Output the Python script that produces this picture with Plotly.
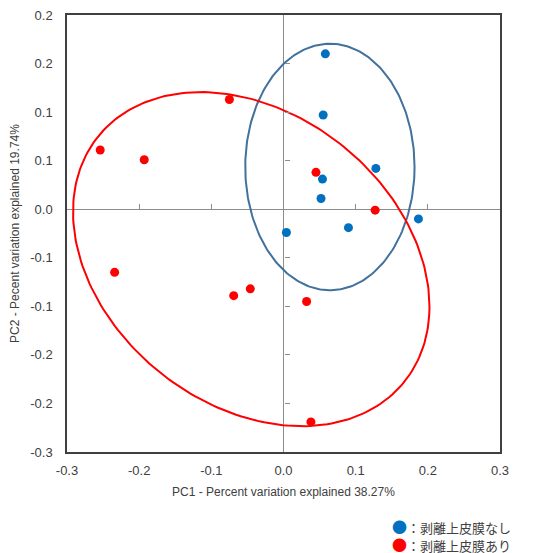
import numpy as np
import plotly.graph_objects as go

# --- data ---
blue_name = "：剥離上皮膜なし"
blue_x = [0.058, 0.055, 0.128, 0.054, 0.052, 0.187, 0.090, 0.004]
blue_y = [0.160, 0.097, 0.042, 0.031, 0.011, -0.010, -0.019, -0.024]

red_name = "：剥離上皮膜あり"
red_x = [-0.254, -0.193, -0.075, 0.045, 0.127, -0.234, -0.069, -0.046, 0.032, 0.038]
red_y = [0.061, 0.051, 0.113, 0.038, -0.001, -0.065, -0.089, -0.082, -0.095, -0.219]

# ellipse parameters: center x, center y, covariance-like shape matrix (data units)
blue_ell_center = (0.0643, 0.0435)
blue_ell_shape = [[0.1173**2, 0.0], [0.0, 0.1269**2]]
red_ell_center = (-0.0447, -0.0514)
red_ell_shape = [[0.06099, -0.01203], [-0.01203, 0.02959]]

x_ticks = [-0.3, -0.2, -0.1, 0.0, 0.1, 0.2, 0.3]
x_ticktext = ["-0.3", "-0.2", "-0.1", "0.0", "0.1", "0.2", "0.3"]
y_ticks = [-0.25, -0.2, -0.15, -0.1, -0.05, 0.0, 0.05, 0.1, 0.15, 0.2]
y_ticktext = ["-0.3", "-0.2", "-0.2", "-0.1", "-0.1", "0.0", "0.1", "0.1", "0.2", "0.2"]
x_range = [-0.3, 0.3]
y_range = [-0.25, 0.2]

x_title = "PC1 - Percent variation explained 38.27%"
y_title = "PC2 - Pecent variation explained 19.74%"

BLUE = "#0070C0"
RED = "#FF0000"
BLUE_ELL = "#41719C"


def ellipse(center, shape, n=240):
    t = np.linspace(0, 2 * np.pi, n)
    L = np.linalg.cholesky(np.array(shape))
    pts = L @ np.vstack([np.cos(t), np.sin(t)])
    return center[0] + pts[0], center[1] + pts[1]


fig = go.Figure()

ex, ey = ellipse(blue_ell_center, blue_ell_shape)
fig.add_trace(go.Scatter(x=ex, y=ey, mode="lines", line=dict(color=BLUE_ELL, width=2),
                         showlegend=False, hoverinfo="skip"))
ex, ey = ellipse(red_ell_center, red_ell_shape)
fig.add_trace(go.Scatter(x=ex, y=ey, mode="lines", line=dict(color=RED, width=2),
                         showlegend=False, hoverinfo="skip"))

fig.add_trace(go.Scatter(x=blue_x, y=blue_y, mode="markers", name=blue_name,
                         marker=dict(color=BLUE, size=9), showlegend=False))
fig.add_trace(go.Scatter(x=red_x, y=red_y, mode="markers", name=red_name,
                         marker=dict(color=RED, size=9), showlegend=False))

# invisible trace to activate the zero-crossing tick axes
fig.add_trace(go.Scatter(x=[None], y=[None], xaxis="x2", yaxis="y2", showlegend=False,
                         hoverinfo="skip"))

tick_font = dict(family="Liberation Sans, Arial, sans-serif", size=13, color="#404040")
leg_font = dict(family="Noto Sans CJK JP", size=13, color="#404040")

# text legend (coloured bullet + label), as in the reference
for i, (name, col) in enumerate([(blue_name, BLUE), (red_name, RED)]):
    fig.add_annotation(
        xref="paper", yref="paper", x=0.745, y=-0.1716 - 0.0405 * i,
        xanchor="left", yanchor="middle", showarrow=False,
        text=f'<span style="color:{col};font-size:15px">●</span>{name}',
        font=leg_font, align="left",
    )

# the page body has an 8px default margin, so the figure is 8px smaller
fig.update_layout(
    width=527, height=545,
    margin=dict(l=59, r=35, t=7, b=101),
    paper_bgcolor="white", plot_bgcolor="white",
    font=dict(family="Liberation Sans, Arial, sans-serif", size=12, color="#404040"),
    showlegend=False,
    xaxis=dict(range=x_range, tickvals=x_ticks, ticktext=x_ticktext, showgrid=False,
               zeroline=True, zerolinecolor="#8c8c8c", zerolinewidth=1,
               showline=True, mirror=True, linecolor="#404040", linewidth=1.5,
               ticks="", tickfont=tick_font, ticklabelstandoff=6, automargin=False,
               ticklabeloverflow="allow",
               title=dict(text=x_title, font=dict(size=12, color="#404040"), standoff=10)),
    yaxis=dict(range=y_range, tickvals=y_ticks, ticktext=y_ticktext, showgrid=False,
               zeroline=True, zerolinecolor="#8c8c8c", zerolinewidth=1,
               showline=True, mirror=True, linecolor="#404040", linewidth=1.5,
               ticks="", tickfont=tick_font, ticklabelstandoff=10, automargin=False,
               ticklabeloverflow="allow",
               title=dict(text=y_title, font=dict(size=12, color="#404040"), standoff=14)),
    xaxis2=dict(overlaying="x", anchor="free",
                position=(0 - y_range[0]) / (y_range[1] - y_range[0]),
                range=x_range, tickvals=[v for v in x_ticks if v not in (x_range[0], 0.0, x_range[1])],
                ticks="inside", ticklen=5, tickcolor="#8c8c8c", showticklabels=False,
                showgrid=False, zeroline=False, showline=False, automargin=False),
    yaxis2=dict(overlaying="y", anchor="free",
                position=(0 - x_range[0]) / (x_range[1] - x_range[0]),
                range=y_range, tickvals=[v for v in y_ticks if v not in (y_range[0], 0.0, y_range[1])],
                ticks="inside", ticklen=5, tickcolor="#8c8c8c", showticklabels=False,
                showgrid=False, zeroline=False, showline=False, automargin=False),
)

fig.write_html("out.html")
